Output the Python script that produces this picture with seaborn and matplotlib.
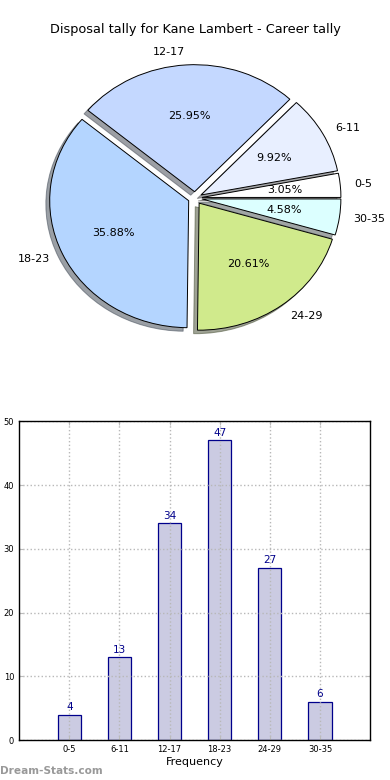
import matplotlib
matplotlib.use("Agg")
import matplotlib.pyplot as plt
import seaborn as sns
import pandas as pd

categories = ["0-5", "6-11", "12-17", "18-23", "24-29", "30-35"]
counts = [4, 13, 34, 47, 27, 6]
pie_colors = ["#ffffff", "#e8efff", "#c4d8ff", "#b4d5ff", "#d0ea8c", "#dcffff"]
title = "Disposal tally for Kane Lambert - Career tally"

sns.set_style("white")
plt.rcParams['font.family'] = ['DejaVu Sans']
plt.rcParams['text.color'] = 'black'
plt.rcParams['xtick.color'] = 'black'
plt.rcParams['ytick.color'] = 'black'
plt.rcParams['axes.labelcolor'] = 'black'

fig = plt.figure(figsize=(3.9, 7.8), dpi=100)

# Pie
axp = fig.add_axes([0.0, 0.5538, 1.0, 0.3846])
wedges, texts, autotexts = axp.pie(
    counts, labels=categories, colors=pie_colors, explode=[0.05] * len(counts),
    autopct="%1.2f%%", shadow=True, startangle=0,
    wedgeprops=dict(edgecolor="black", linewidth=0.7),
    textprops=dict(fontsize=8, color="black"), pctdistance=0.6, labeldistance=1.1)
axp.set_aspect("auto")
axp.set_xlim(-1.403, 1.403)
axp.set_ylim(-1.181, 1.181)
axp.axis("off")
fig.text(0.5, 1 - 30 / 780, title, ha="center", va="center", fontsize=9.3, color="black")

# Bars
axb = fig.add_axes([0.049, 0.051, 0.9, 0.409])
df = pd.DataFrame({"cat": categories, "n": counts})
sns.barplot(data=df, x="cat", y="n", ax=axb, color="#cbcbe2", width=0.46,
            edgecolor="#00008b", linewidth=0.9, saturation=1)
axb.set_xlim(-1, 6)
axb.set_ylim(0, 50)
axb.set_yticks([0, 10, 20, 30, 40, 50])
axb.grid(True, linestyle=":", color="#b8b8b8", linewidth=1)
axb.set_axisbelow(False)
for s in axb.spines.values():
    s.set_visible(True)
    s.set_color("black")
    s.set_linewidth(1)
    s.set_zorder(5)
axb.tick_params(axis="both", which="both", direction="in", length=3, labelsize=6,
                top=True, right=True, bottom=True, left=True, color="#bbbbbb",
                labelcolor="black")
axb.set_xlabel("Frequency", fontsize=8, labelpad=2, color="black")
axb.set_ylabel("")
for i, v in enumerate(counts):
    axb.text(i, v + 0.4, str(v), ha="center", va="bottom", color="#00008b", fontsize=7.5)

fig.text(0.0, 1 - 771 / 780, "Dream-Stats.com", ha="left", va="center",
         color="#999999", fontsize=7.6, fontweight="bold")

fig.savefig("out.png", dpi=100)
